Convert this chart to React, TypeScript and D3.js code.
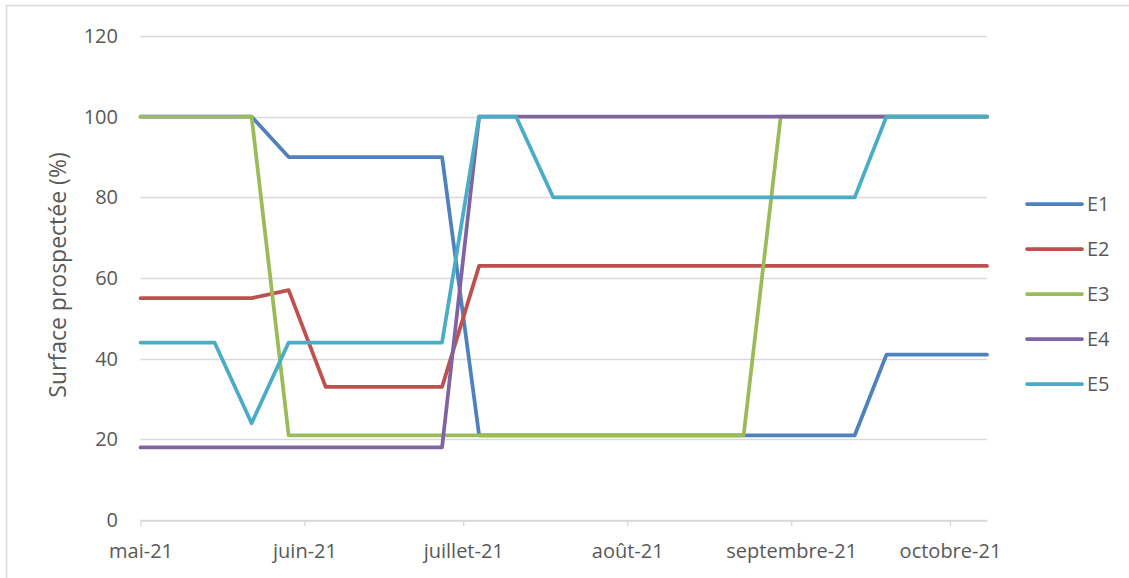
import React, { Component } from "react";
import * as D3 from "d3";

// dates of each survey (x axis)
const survey_dates = [
	"2021-05-01",
	"2021-05-15",
	"2021-05-22",
	"2021-05-29",
	"2021-06-05",
	"2021-06-27",
	"2021-07-04",
	"2021-07-11",
	"2021-07-18",
	"2021-08-23",
	"2021-08-30",
	"2021-09-13",
	"2021-09-19",
	"2021-10-08"
];

// surface prospectée (%) per station
const e1_values = [100, 100, 100, 90, 90, 90, 21, 21, 21, 21, 21, 21, 41, 41];
const e2_values = [55, 55, 55, 57, 33, 33, 63, 63, 63, 63, 63, 63, 63, 63];
const e3_values = [100, 100, 100, 21, 21, 21, 21, 21, 21, 21, 100, 100, 100, 100];
const e4_values = [18, 18, 18, 18, 18, 18, 100, 100, 100, 100, 100, 100, 100, 100];
const e5_values = [44, 44, 24, 44, 44, 44, 100, 100, 80, 80, 80, 80, 100, 100];

const series_names = ["E1", "E2", "E3", "E4", "E5"];
const series_colors = ["#4F81BD", "#C0504D", "#9BBB59", "#8064A2", "#4BACC6"];
const y_ticks = [0, 20, 40, 60, 80, 100, 120];
const month_ticks = ["2021-05-01", "2021-06-01", "2021-07-01", "2021-08-01", "2021-09-01", "2021-10-01"];
const month_labels = ["mai-21", "juin-21", "juillet-21", "août-21", "septembre-21", "octobre-21"];

class App extends Component {
	constructor(props) {
		super(props);
		this.chart_width = 1129;
		this.chart_height = 578;
		this.font = "'Open Sans', sans-serif";
		this.text_color = "#595959";
		this.grid_color = "#D9D9D9";
		this.svg_ref = React.createRef();
	}

	componentDidMount() {
		const parse = D3.timeParse("%Y-%m-%d");
		const dates = survey_dates.map((d) => parse(d));
		const all_values = [e1_values, e2_values, e3_values, e4_values, e5_values];

		const x_scale = D3.scaleTime()
			.domain([D3.min(dates), D3.max(dates)])
			.range([140.5, 987]);

		const y_scale = D3.scaleLinear().domain([0, 120]).range([520, 36]);

		const svg = D3.select(this.svg_ref.current);
		svg.selectAll("*").remove();

		// outer chart border
		svg
			.append("rect")
			.attr("x", 6.5)
			.attr("y", 5.5)
			.attr("width", 1200)
			.attr("height", 700)
			.attr("fill", "#fff")
			.attr("stroke", this.grid_color)
			.attr("stroke-width", 1.5);

		// horizontal grid lines
		svg
			.append("g")
			.selectAll("line")
			.data(y_ticks)
			.enter()
			.append("line")
			.attr("x1", x_scale.range()[0])
			.attr("x2", x_scale.range()[1])
			.attr("y1", (d) => Math.round(y_scale(d)) + 0.5)
			.attr("y2", (d) => Math.round(y_scale(d)) + 0.5)
			.attr("stroke", this.grid_color)
			.attr("stroke-width", 1.3);

		// y tick labels
		svg
			.append("g")
			.selectAll("text")
			.data(y_ticks)
			.enter()
			.append("text")
			.attr("x", 118)
			.attr("y", (d) => y_scale(d))
			.attr("dy", "0.35em")
			.attr("text-anchor", "end")
			.attr("font-family", this.font)
			.attr("font-size", 20)
			.attr("fill", this.text_color)
			.text((d) => d);

		// month ticks on x axis
		const x_axis = D3.axisBottom(x_scale)
			.tickValues(month_ticks.map((d) => parse(d)))
			.tickSize(6)
			.tickSizeOuter(0)
			.tickPadding(17)
			.tickFormat((d, i) => month_labels[i]);
		const x_group = svg
			.append("g")
			.attr("transform", "translate(0," + (Math.round(y_scale(0)) + 0.5) + ")")
			.call(x_axis);
		x_group.select(".domain").attr("stroke", this.grid_color).attr("stroke-width", 1.3);
		x_group.selectAll(".tick line").attr("stroke", this.grid_color).attr("stroke-width", 1.3);
		x_group
			.selectAll(".tick text")
			.attr("font-family", this.font)
			.attr("font-size", 20)
			.attr("fill", this.text_color);

		// y axis title
		svg
			.append("text")
			.attr("transform", "translate(66,275) rotate(-90)")
			.attr("text-anchor", "middle")
			.attr("font-family", this.font)
			.attr("font-size", 23)
			.attr("fill", this.text_color)
			.text("Surface prospectée (%)");

		// one line per station
		const line = D3.line()
			.x((d) => x_scale(d.date))
			.y((d) => y_scale(d.num));

		all_values.forEach((values, i) => {
			const points = values.map((v, j) => ({ date: dates[j], num: v }));
			svg
				.append("path")
				.datum(points)
				.attr("d", line)
				.attr("fill", "none")
				.attr("stroke", series_colors[i])
				.attr("stroke-width", 3.75)
				.attr("stroke-linecap", "round")
				.attr("stroke-linejoin", "round");
		});

		// legend
		const legend = svg
			.append("g")
			.selectAll("g")
			.data(series_names)
			.enter()
			.append("g")
			.attr("transform", (d, i) => "translate(1027," + (204 + i * 45) + ")");
		legend
			.append("line")
			.attr("x1", 0)
			.attr("x2", 55)
			.attr("stroke", (d, i) => series_colors[i])
			.attr("stroke-width", 3.75)
			.attr("stroke-linecap", "round");
		legend
			.append("text")
			.attr("x", 60)
			.attr("dy", "0.35em")
			.attr("font-family", this.font)
			.attr("font-size", 20)
			.attr("fill", this.text_color)
			.text((d) => d);
	}

	render() {
		const style = {
			position: "absolute",
			left: 0,
			top: 0,
			display: "block",
			background: "#fff"
		};
		return (
			<svg
				ref={this.svg_ref}
				width={this.chart_width}
				height={this.chart_height}
				style={style}
			></svg>
		);
	}
}
export default App;
